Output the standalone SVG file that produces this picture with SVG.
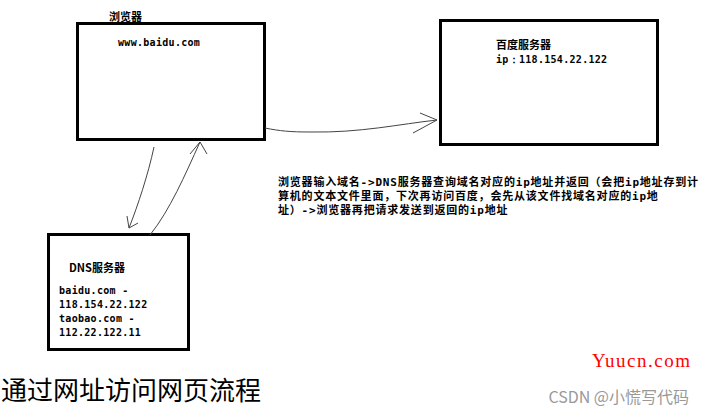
<svg xmlns="http://www.w3.org/2000/svg" width="702" height="416" viewBox="0 0 702 416">
<style>
.box{fill:#fff;stroke:#000;stroke-width:3}
.cn{font-family:"Noto Sans CJK SC",sans-serif;font-weight:bold;font-size:11px;fill:#000}
.mono{font-family:"DejaVu Sans Mono","Liberation Mono",monospace;font-weight:bold;font-size:10px;fill:#000;letter-spacing:0.3px}
.desc{font-family:"DejaVu Sans Mono","Noto Sans CJK SC",monospace;font-weight:bold;font-size:11px;fill:#000;letter-spacing:0.8px}
.line{fill:none;stroke:#444;stroke-width:1}
</style>
<rect width="702" height="416" fill="#fff"/>
<g id="browser">
<rect class="box" x="77.5" y="23.5" width="187" height="116"/>
<text class="cn" x="109" y="21">浏览器</text>
<text class="mono" x="118" y="46">www.baidu.com</text>
</g>
<g id="baidu-server">
<rect class="box" x="440.5" y="20.5" width="217" height="124"/>
<text class="cn" x="496" y="49">百度服务器</text>
<text class="mono" x="496" y="63">ip：118.154.22.122</text>
</g>
<g id="dns-server">
<rect class="box" x="48.5" y="234.5" width="140" height="115"/>
<text class="cn" x="69" y="272">DNS服务器</text>
<text class="mono" x="59" y="294">baidu.com -</text>
<text class="mono" x="59" y="308">118.154.22.122</text>
<text class="mono" x="59" y="322">taobao.com -</text>
<text class="mono" x="59" y="336">112.22.122.11</text>
</g>
<g id="connectors">
<path class="line" d="M265,128 C280,131 290,132 310,132 C360,133 400,124 437,120"/>
<path class="line" d="M420,113 L437,120 L413,133"/>
<path class="line" d="M154,147 C148,175 138,205 129,228"/>
<path class="line" d="M127,216 L129,228 L138,223"/>
<path class="line" d="M150,235 C170,210 185,175 200,142"/>
<path class="line" d="M190,154 L200,142 L207,154"/>
</g>
<g id="description">
<text class="desc" x="278" y="186">浏览器输入域名-&gt;DNS服务器查询域名对应的ip地址并返回（会把ip地址存到计</text>
<text class="desc" x="278" y="200">算机的文本文件里面，下次再访问百度，会先从该文件找域名对应的ip地</text>
<text class="desc" x="278" y="214">址）-&gt;浏览器再把请求发送到返回的ip地址</text>
</g>
<g id="captions">
<text x="1" y="400" style="font-family:'Noto Sans CJK SC',sans-serif;font-size:26px;fill:#000">通过网址访问网页流程</text>
<text x="592" y="367" textLength="98" style="font-family:'Liberation Serif',serif;font-size:19px;fill:#f00">Yuucn.com</text>
<text x="689" y="403" text-anchor="end" style="font-family:'Noto Sans CJK SC',sans-serif;font-size:16px;fill:#999">CSDN @小慌写代码</text>
</g>
</svg>
